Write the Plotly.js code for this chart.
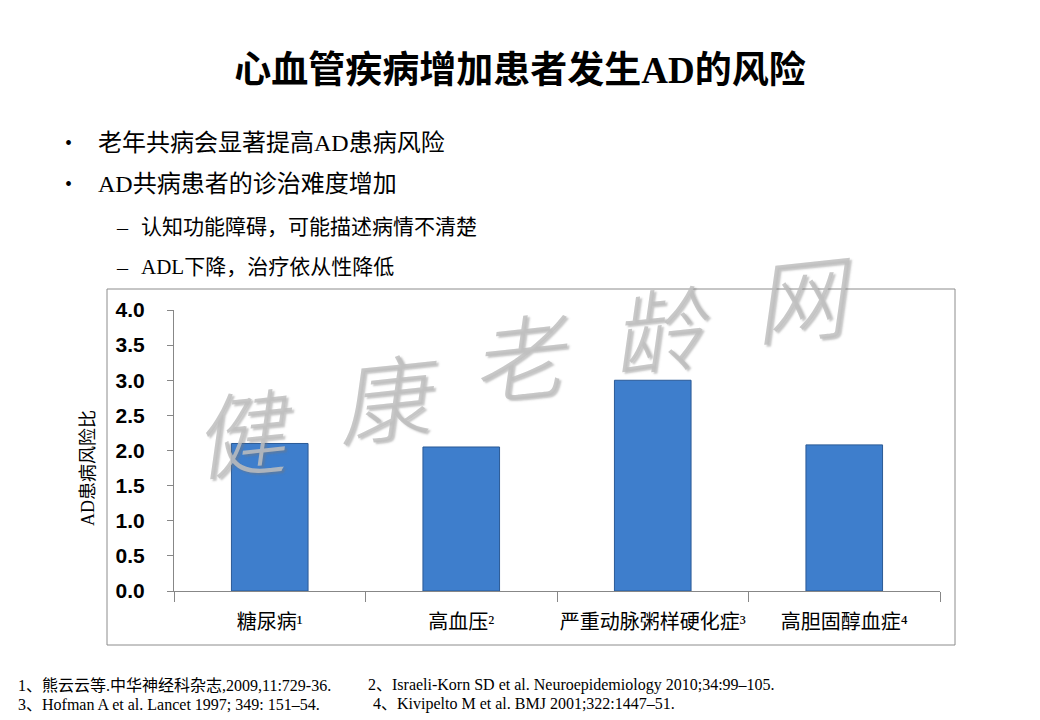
<!DOCTYPE html>
<html>
<head>
<meta charset="utf-8">
<script src="https://cdn.plot.ly/plotly-3.0.1.min.js"></script>
<style>html,body{margin:0;padding:0;background:#fff;}#chart{width:1040px;height:720px;}</style>
</head>
<body>
<div id="chart"></div>
<script>
const categories = ["糖尿病¹", "高血压²", "严重动脉粥样硬化症³", "高胆固醇血症⁴"];
const riskRatio = [2.1, 2.05, 3.0, 2.08];
const yTicks = [0, 0.5, 1.0, 1.5, 2.0, 2.5, 3.0, 3.5, 4.0];
const yTickText = ["0.0", "0.5", "1.0", "1.5", "2.0", "2.5", "3.0", "3.5", "4.0"];
const titleText = "心血管疾病增加患者发生AD的风险";
const yTitle = "AD患病风险比";
const bullets = ["老年共病会显著提高AD患病风险", "AD共病患者的诊治难度增加"];
const subBullets = ["认知功能障碍，可能描述病情不清楚", "ADL下降，治疗依从性降低"];
const refs = [
  "1、熊云云等.中华神经科杂志,2009,11:729-36.",
  "2、Israeli-Korn SD et al. Neuroepidemiology 2010;34:99–105.",
  "3、Hofman A et al. Lancet 1997; 349: 151–54.",
  "4、Kivipelto M et al. BMJ 2001;322:1447–51."
];
const watermark = ["健", "康", "老", "龄", "网"];

// plot area in pixels
const L = 174, R = 940, T = 310, B = 591;
const px = x => (x - L) / (R - L);
const py = y => (B - y) / (B - T);

const serifCJK = "Liberation Serif, Noto Sans CJK SC, serif";

const annotations = [];
function addText(text, x, y, size, opts) {
  annotations.push(Object.assign({
    text: text, xref: "paper", yref: "paper", x: px(x), y: py(y),
    xanchor: "left", yanchor: "middle", showarrow: false,
    font: {family: serifCJK, size: size, color: "#000"}
  }, opts || {}));
}
// bullets
const bulletY = [143, 184];
bullets.forEach((b, i) => {
  addText("•", 63, bulletY[i], 20);
  addText(b, 96, bulletY[i], 24);
});
const subY = [227, 267];
subBullets.forEach((b, i) => {
  addText("–", 114, subY[i], 22);
  addText(b, 139, subY[i], 21);
});
// references
addText(refs[0], 16, 685, 16);
addText(refs[1], 366, 685, 16);
addText(refs[2], 16, 704, 16);
addText(refs[3], 371, 704, 16);
// y title
addText(yTitle, 88, 468, 18, {xanchor: "center", textangle: -90});
// watermark
const wmPos = [[243, 428], [388, 393], [520, 352], [660, 325], [803, 293]];
watermark.forEach((c, i) => {
  annotations.push({
    text: c, xref: "paper", yref: "paper", x: px(wmPos[i][0]), y: py(wmPos[i][1]),
    xanchor: "center", yanchor: "middle", showarrow: false, textangle: -6,
    font: {family: "Noto Sans CJK SC", size: 92, color: "rgba(190,190,190,0.85)", style: "italic", weight: 300,
           shadow: "2px 2px 2px rgba(120,120,120,0.5)"}
  });
});

const data = [{
  type: "bar",
  x: categories,
  y: riskRatio,
  marker: {color: "#3e7ecc", line: {color: "#2a5a96", width: 1}},
  hoverinfo: "skip"
}];

const layout = {
  width: 1040, height: 720,
  margin: {l: L, r: 1040 - R, t: T, b: 720 - B, pad: 0},
  paper_bgcolor: "#fff", plot_bgcolor: "#fff",
  showlegend: false,
  bargap: 0.6,
  title: {
    text: "<b>" + titleText + "</b>",
    font: {family: serifCJK, size: 37, color: "#000"},
    x: 0.5, xref: "container", xanchor: "center",
    y: 1 - 70 / 720, yref: "container", yanchor: "middle"
  },
  xaxis: {
    type: "category",
    showline: true, linecolor: "#878787", linewidth: 1,
    ticks: "outside", tickson: "boundaries", ticklen: 10, tickcolor: "#878787",
    showgrid: false, zeroline: false,
    tickangle: 0,
    tickfont: {family: serifCJK, size: 20, color: "#000"},
    ticklabelstandoff: 13,
    fixedrange: true
  },
  yaxis: {
    range: [0, 4],
    tickvals: yTicks, ticktext: yTickText,
    showline: true, linecolor: "#878787", linewidth: 1,
    ticks: "outside", ticklen: 6, tickcolor: "#878787",
    showgrid: false, zeroline: false,
    tickfont: {family: "Liberation Sans, Arial, sans-serif", size: 21, color: "#000", weight: "bold"},
    ticklabelstandoff: 18,
    fixedrange: true
  },
  shapes: [{
    type: "rect", xref: "paper", yref: "paper",
    x0: px(107), x1: px(955), y0: py(645), y1: py(289),
    line: {color: "#8c8c8c", width: 1}, fillcolor: "rgba(0,0,0,0)", layer: "below"
  }],
  annotations: annotations
};

Plotly.newPlot("chart", data, layout, {displayModeBar: false, staticPlot: true});
</script>
</body>
</html>
